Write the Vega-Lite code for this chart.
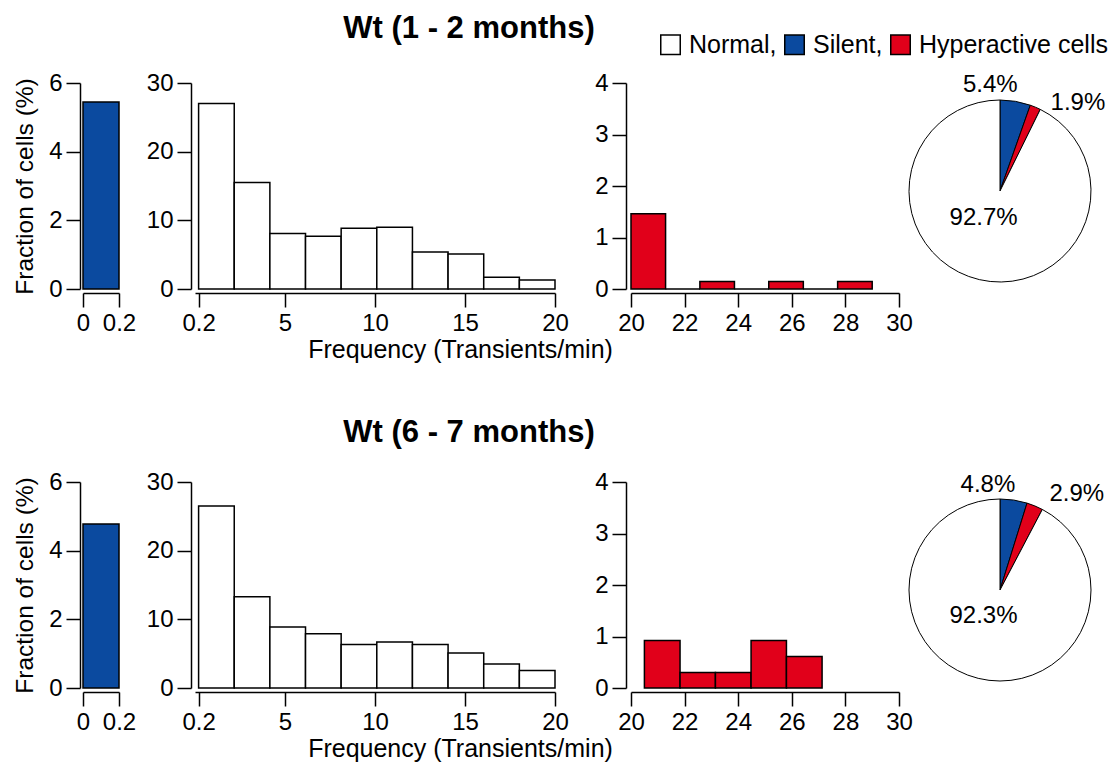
{
  "$schema": "https://vega.github.io/schema/vega-lite/v6.json",
  "background": "white",
  "autosize": {"type": "pad"},
  "padding": {"left": 12, "top": 13, "right": 8, "bottom": 2},
  "config": {
    "font": "Liberation Sans",
    "view": {"stroke": null},
    "axis": {
      "grid": false,
      "domainColor": "black",
      "domainWidth": 1.5,
      "tickColor": "black",
      "tickWidth": 1.5,
      "tickSize": 14,
      "labelFont": "Liberation Sans",
      "labelFontSize": 24,
      "labelColor": "black",
      "labelPadding": 4,
      "labelFlush": false,
      "labelOverlap": false,
      "titleFont": "Liberation Sans",
      "titleFontSize": 25,
      "titleFontWeight": "normal",
      "titleColor": "black"
    },
    "axisX": {"offset": 4, "labelPadding": 4},
    "axisY": {"offset": 4},
    "text": {"font": "Liberation Sans", "fontSize": 24, "color": "black"}
  },
  "datasets": {
    "silent": [
      {"grp": "1-2", "lo": 0, "hi": 0.2, "pct": 5.45},
      {"grp": "6-7", "lo": 0, "hi": 0.2, "pct": 4.78}
    ],
    "normal": [
      {"grp": "1-2", "lo": 0.2, "hi": 2.18, "pct": 27.0},
      {"grp": "1-2", "lo": 2.18, "hi": 4.16, "pct": 15.5},
      {"grp": "1-2", "lo": 4.16, "hi": 6.14, "pct": 8.1},
      {"grp": "1-2", "lo": 6.14, "hi": 8.12, "pct": 7.7},
      {"grp": "1-2", "lo": 8.12, "hi": 10.1, "pct": 8.85},
      {"grp": "1-2", "lo": 10.1, "hi": 12.08, "pct": 9.0},
      {"grp": "1-2", "lo": 12.08, "hi": 14.06, "pct": 5.4},
      {"grp": "1-2", "lo": 14.06, "hi": 16.04, "pct": 5.1},
      {"grp": "1-2", "lo": 16.04, "hi": 18.02, "pct": 1.7},
      {"grp": "1-2", "lo": 18.02, "hi": 20, "pct": 1.3},
      {"grp": "6-7", "lo": 0.2, "hi": 2.18, "pct": 26.5},
      {"grp": "6-7", "lo": 2.18, "hi": 4.16, "pct": 13.3},
      {"grp": "6-7", "lo": 4.16, "hi": 6.14, "pct": 8.9},
      {"grp": "6-7", "lo": 6.14, "hi": 8.12, "pct": 7.9},
      {"grp": "6-7", "lo": 8.12, "hi": 10.1, "pct": 6.35},
      {"grp": "6-7", "lo": 10.1, "hi": 12.08, "pct": 6.7},
      {"grp": "6-7", "lo": 12.08, "hi": 14.06, "pct": 6.35},
      {"grp": "6-7", "lo": 14.06, "hi": 16.04, "pct": 5.1},
      {"grp": "6-7", "lo": 16.04, "hi": 18.02, "pct": 3.5},
      {"grp": "6-7", "lo": 18.02, "hi": 20, "pct": 2.55}
    ],
    "hyper": [
      {"grp": "1-2", "lo": 20, "hi": 21.29, "pct": 1.46},
      {"grp": "1-2", "lo": 21.29, "hi": 22.57, "pct": 0},
      {"grp": "1-2", "lo": 22.57, "hi": 23.86, "pct": 0.146},
      {"grp": "1-2", "lo": 23.86, "hi": 25.14, "pct": 0},
      {"grp": "1-2", "lo": 25.14, "hi": 26.43, "pct": 0.146},
      {"grp": "1-2", "lo": 26.43, "hi": 27.71, "pct": 0},
      {"grp": "1-2", "lo": 27.71, "hi": 29, "pct": 0.146},
      {"grp": "6-7", "lo": 20.5, "hi": 21.83, "pct": 0.92},
      {"grp": "6-7", "lo": 21.83, "hi": 23.15, "pct": 0.3},
      {"grp": "6-7", "lo": 23.15, "hi": 24.48, "pct": 0.3},
      {"grp": "6-7", "lo": 24.48, "hi": 25.8, "pct": 0.92},
      {"grp": "6-7", "lo": 25.8, "hi": 27.13, "pct": 0.61}
    ],
    "pie": [
      {"grp": "1-2", "cat": "Silent", "ord": 1, "frac": 0.054},
      {"grp": "1-2", "cat": "Hyperactive", "ord": 2, "frac": 0.019},
      {"grp": "1-2", "cat": "Normal", "ord": 3, "frac": 0.927},
      {"grp": "6-7", "cat": "Silent", "ord": 1, "frac": 0.048},
      {"grp": "6-7", "cat": "Hyperactive", "ord": 2, "frac": 0.029},
      {"grp": "6-7", "cat": "Normal", "ord": 3, "frac": 0.923}
    ]
  },
  "columns": 4,
  "spacing": {"row": 183, "column": 76},
  "bounds": "flush",
  "align": "each",
  "resolve": {"scale": {"color": "independent"}, "legend": {"color": "independent"}},
  "concat": [
    {
      "width": 36, "height": 206,
      "data": {"name": "silent"},
      "transform": [{"filter": "datum.grp === '1-2'"}],
      "mark": {"type": "bar", "fill": "#0b4a9f", "stroke": "black", "strokeWidth": 1.5},
      "encoding": {
        "x": {"field": "lo", "type": "quantitative", "scale": {"domain": [0, 0.2], "nice": false, "zero": false}, "axis": {"values": [0, 0.2], "format": "~g", "title": null}},
        "x2": {"field": "hi"},
        "y": {"field": "pct", "type": "quantitative", "scale": {"domain": [0, 6], "nice": false}, "axis": {"values": [0, 2, 4, 6], "title": "Fraction of cells (%)", "titleFontSize": 24.5, "titlePadding": 11, "offset": 3}},
        "y2": {"datum": 0}
      }
    },
    {
      "width": 360, "height": 206,
      "data": {"name": "normal"},
      "transform": [{"filter": "datum.grp === '1-2'"}],
      "title": {"text": "Wt (1 - 2 months)", "frame": "group", "anchor": "middle", "dx": 94, "offset": -5, "baseline": "bottom", "font": "Liberation Sans", "fontSize": 31, "fontWeight": "bold", "color": "black"},
      "mark": {"type": "bar", "fill": "white", "stroke": "black", "strokeWidth": 1.5},
      "encoding": {
        "x": {"field": "lo", "type": "quantitative", "scale": {"domain": [0, 20], "nice": false, "zero": false}, "axis": {"values": [0.2, 5, 10, 15, 20], "format": "~g", "title": "Frequency (Transients/min)", "titleX": 265, "titlePadding": 2}},
        "x2": {"field": "hi"},
        "y": {"field": "pct", "type": "quantitative", "scale": {"domain": [0, 30], "nice": false}, "axis": {"values": [0, 10, 20, 30], "title": null}},
        "y2": {"datum": 0}
      }
    },
    {
      "width": 268, "height": 206,
      "data": {"name": "hyper"},
      "transform": [{"filter": "datum.grp === '1-2'"}],
      "mark": {"type": "bar", "fill": "#e1001a", "stroke": "black", "strokeWidth": 1.5},
      "encoding": {
        "x": {"field": "lo", "type": "quantitative", "scale": {"domain": [20, 30], "nice": false, "zero": false}, "axis": {"values": [20, 22, 24, 26, 28, 30], "title": null}},
        "x2": {"field": "hi"},
        "y": {"field": "pct", "type": "quantitative", "scale": {"domain": [0, 4], "nice": false}, "axis": {"values": [0, 1, 2, 3, 4], "title": null, "offset": 5}},
        "y2": {"datum": 0}
      }
    },
    {
      "width": 50, "height": 216,
      "data": {"name": "pie"},
      "transform": [{"filter": "datum.grp === '1-2'"}],
      "encoding": {
        "theta": {"field": "frac", "type": "quantitative", "stack": true},
        "order": {"field": "ord", "type": "quantitative"}
      },
      "layer": [
        {
          "mark": {"type": "arc", "outerRadius": 91, "stroke": "black", "strokeWidth": 1},
          "encoding": {
            "color": {
              "field": "cat", "type": "nominal",
              "scale": {"domain": ["Normal", "Silent", "Hyperactive"], "range": ["white", "#0b4a9f", "#e1001a"]},
              "legend": {
                "orient": "none", "legendX": -317, "legendY": -51, "direction": "horizontal", "title": null,
                "symbolType": "square", "symbolSize": 380, "symbolStrokeColor": "black", "symbolStrokeWidth": 1.5,
                "labelFont": "Liberation Sans", "labelFontSize": 25, "labelColor": "black", "labelOffset": 6, "columnPadding": 4, "labelLimit": 400,
                "labelExpr": "datum.label === 'Hyperactive' ? 'Hyperactive cells' : datum.label + ','",
                "encode": {"symbols": {"update": {"stroke": {"value": "black"}, "strokeWidth": {"value": 1.5}}}}
              }
            }
          }
        },
        {
          "mark": {"type": "text", "radius": 108, "dx": -28},
          "encoding": {"detail": {"field": "cat"}, "text": {"condition": {"test": "datum.cat === 'Silent'", "field": "frac", "type": "quantitative", "format": ".1%"}, "value": ""}}
        },
        {
          "mark": {"type": "text", "radius": 95, "dx": 41},
          "encoding": {"detail": {"field": "cat"}, "text": {"condition": {"test": "datum.cat === 'Hyperactive'", "field": "frac", "type": "quantitative", "format": ".1%"}, "value": ""}}
        },
        {
          "mark": {"type": "text", "radius": 28, "dx": -10},
          "encoding": {"detail": {"field": "cat"}, "text": {"condition": {"test": "datum.cat === 'Normal'", "field": "frac", "type": "quantitative", "format": ".1%"}, "value": ""}}
        }
      ]
    },
    {
      "width": 36, "height": 206,
      "data": {"name": "silent"},
      "transform": [{"filter": "datum.grp === '6-7'"}],
      "mark": {"type": "bar", "fill": "#0b4a9f", "stroke": "black", "strokeWidth": 1.5},
      "encoding": {
        "x": {"field": "lo", "type": "quantitative", "scale": {"domain": [0, 0.2], "nice": false, "zero": false}, "axis": {"values": [0, 0.2], "format": "~g", "title": null}},
        "x2": {"field": "hi"},
        "y": {"field": "pct", "type": "quantitative", "scale": {"domain": [0, 6], "nice": false}, "axis": {"values": [0, 2, 4, 6], "title": "Fraction of cells (%)", "titleFontSize": 24.5, "titlePadding": 11, "offset": 3}},
        "y2": {"datum": 0}
      }
    },
    {
      "width": 360, "height": 206,
      "data": {"name": "normal"},
      "transform": [{"filter": "datum.grp === '6-7'"}],
      "title": {"text": "Wt (6 - 7 months)", "frame": "group", "anchor": "middle", "dx": 94, "offset": -10, "baseline": "bottom", "font": "Liberation Sans", "fontSize": 31, "fontWeight": "bold", "color": "black"},
      "mark": {"type": "bar", "fill": "white", "stroke": "black", "strokeWidth": 1.5},
      "encoding": {
        "x": {"field": "lo", "type": "quantitative", "scale": {"domain": [0, 20], "nice": false, "zero": false}, "axis": {"values": [0.2, 5, 10, 15, 20], "format": "~g", "title": "Frequency (Transients/min)", "titleX": 265, "titlePadding": 2}},
        "x2": {"field": "hi"},
        "y": {"field": "pct", "type": "quantitative", "scale": {"domain": [0, 30], "nice": false}, "axis": {"values": [0, 10, 20, 30], "title": null}},
        "y2": {"datum": 0}
      }
    },
    {
      "width": 268, "height": 206,
      "data": {"name": "hyper"},
      "transform": [{"filter": "datum.grp === '6-7'"}],
      "mark": {"type": "bar", "fill": "#e1001a", "stroke": "black", "strokeWidth": 1.5},
      "encoding": {
        "x": {"field": "lo", "type": "quantitative", "scale": {"domain": [20, 30], "nice": false, "zero": false}, "axis": {"values": [20, 22, 24, 26, 28, 30], "title": null}},
        "x2": {"field": "hi"},
        "y": {"field": "pct", "type": "quantitative", "scale": {"domain": [0, 4], "nice": false}, "axis": {"values": [0, 1, 2, 3, 4], "title": null, "offset": 5}},
        "y2": {"datum": 0}
      }
    },
    {
      "width": 50, "height": 216,
      "data": {"name": "pie"},
      "transform": [{"filter": "datum.grp === '6-7'"}],
      "encoding": {
        "theta": {"field": "frac", "type": "quantitative", "stack": true},
        "order": {"field": "ord", "type": "quantitative"}
      },
      "layer": [
        {
          "mark": {"type": "arc", "outerRadius": 91, "stroke": "black", "strokeWidth": 1},
          "encoding": {
            "color": {
              "field": "cat", "type": "nominal",
              "scale": {"domain": ["Normal", "Silent", "Hyperactive"], "range": ["white", "#0b4a9f", "#e1001a"]},
              "legend": null
            }
          }
        },
        {
          "mark": {"type": "text", "radius": 106, "dx": -28},
          "encoding": {"detail": {"field": "cat"}, "text": {"condition": {"test": "datum.cat === 'Silent'", "field": "frac", "type": "quantitative", "format": ".1%"}, "value": ""}}
        },
        {
          "mark": {"type": "text", "radius": 104, "dx": 37},
          "encoding": {"detail": {"field": "cat"}, "text": {"condition": {"test": "datum.cat === 'Hyperactive'", "field": "frac", "type": "quantitative", "format": ".1%"}, "value": ""}}
        },
        {
          "mark": {"type": "text", "radius": 27, "dx": -10},
          "encoding": {"detail": {"field": "cat"}, "text": {"condition": {"test": "datum.cat === 'Normal'", "field": "frac", "type": "quantitative", "format": ".1%"}, "value": ""}}
        }
      ]
    }
  ]
}
